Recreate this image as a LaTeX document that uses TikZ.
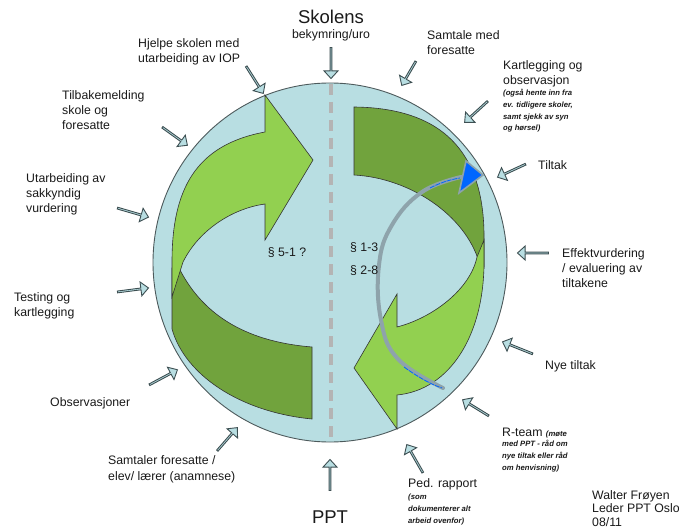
\documentclass[tikz,border=0pt]{standalone}
\usepackage{fontspec}
\setmainfont{Liberation Sans}
\usetikzlibrary{shapes.arrows,calc}
\definecolor{lblue}{HTML}{B8DEE2}
\definecolor{lgreen}{HTML}{92D050}
\definecolor{dgreen}{HTML}{71A33D}
\definecolor{cline}{HTML}{4D5A5C}
\definecolor{aline}{HTML}{3D4F52}
\definecolor{dashgray}{HTML}{B4B4B4}
\definecolor{txt}{HTML}{1A1A1A}
\definecolor{arcgray}{HTML}{8EA3AB}
\definecolor{tipblue}{HTML}{0066FF}
\tikzset{
  lbl/.style={font=\fontsize{12.3}{14.8}\selectfont, align=left, anchor=north west, inner sep=0pt, text=txt},
  sml/.style={font=\fontsize{7.7}{11.8}\selectfont\bfseries\itshape, align=left, anchor=north west, inner sep=0pt, text=txt},
  big/.style={font=\fontsize{18.5}{20}\selectfont, inner sep=0pt, text=txt},
  mid/.style={font=\fontsize{12.3}{14.8}\selectfont, inner sep=0pt, text=txt},
  blk/.style={single arrow, draw=aline, fill=lblue, line width=0.9pt, inner sep=0pt,
    minimum width=14pt, single arrow head extend=3pt, single arrow tip angle=85},
  band/.style={draw=black!80, line width=0.6pt, line join=miter},
}
\newcommand\blkarrow[3]{%
  \path let \p1=($(#3)-(#2)$), \n1={atan2(\y1,\x1)}, \n2={veclen(\x1,\y1)} in
    node[blk, rotate=\n1, minimum height=\n2] (#1) at ($(#2)!0.5!(#3)$) {};}
\begin{document}
\begin{tikzpicture}[x=1pt,y=-1pt]
\fill[white] (0,0) rectangle (679,529);
\useasboundingbox (0,0) rectangle (679,529);

% main circle
\draw[fill=lblue, draw=cline, line width=0.9pt] (330,262.5) ellipse[x radius=177, y radius=179.5];
% divider
\draw[dashgray, line width=3.6pt, dash pattern=on 11pt off 7pt] (331,84) -- (331,441);

% left dark green band
\draw[band, fill=dgreen] (180,270) .. controls (205,318) and (250,342) .. (312,347)
  -- (312,419) .. controls (240,412) and (185,375) .. (172,329) -- (172,268) -- cycle;
% left light green arrow
\draw[band, fill=lgreen] (172,297) -- (172,262) .. controls (172,190) and (195,145) .. (265,132)
  -- (265,95) -- (313,160) -- (265,240) -- (265,204)
  .. controls (235,208) and (200,228) .. (183,262) -- cycle;
% right dark green band
\draw[band, fill=dgreen] (354,107) -- (354,175) .. controls (410,178) and (465,215) .. (479,262)
  -- (484,268) -- (484,240) .. controls (485,160) and (450,108) .. (354,107) -- cycle;
% right light green arrow
\draw[band, fill=lgreen] (484,240) -- (484,262) .. controls (484,335) and (450,390) .. (397,395)
  -- (397,429) -- (354,368) -- (397,294) -- (397,327)
  .. controls (432,318) and (470,290) .. (477,257) -- cycle;

% curved process arrow
\draw[arcgray, line width=4pt, line cap=round] plot[smooth, tension=0.7] coordinates
  {(443,388) (398,359) (381,320) (379,265) (392,225) (422,192) (461,177)};
\draw[tipblue, line width=0.8pt, dash pattern=on 5pt off 1pt] (404,367) .. controls (418,377) and (430,384) .. (442,388);
\draw[tipblue, line width=0.8pt, dash pattern=on 5pt off 1pt] (430,188) .. controls (440,183) and (448,180) .. (460,178);
\draw[fill=tipblue, draw=arcgray, line width=1.6pt, line join=miter] (466,161) -- (483,175) -- (459,193) -- cycle;

% block arrows
\blkarrow{aSk}{331,47}{331,78}
\blkarrow{aIOP}{246,66}{263,93}
\blkarrow{aTil}{162,127}{187,145}
\blkarrow{aUt}{117,208}{148,217}
\blkarrow{aTest}{117,292}{148,288}
\blkarrow{aObs}{149,385}{177,370}
\blkarrow{aSamt}{217,451}{237,428}
\blkarrow{aPPT}{330,491}{330,460}
\blkarrow{aPed}{423,473}{407,445}
\blkarrow{aR}{489,416}{463,400}
\blkarrow{aNye}{533,354}{503,342}
\blkarrow{aEff}{549,253}{518,253}
\blkarrow{aTilt}{526,164}{498,177}
\blkarrow{aKart}{488,101}{465,122}
\blkarrow{aSamf}{416,61}{402,85}

% texts
\node[big] (tSk) at (331,17) {Skolens};
\node[mid] (tBek) at (331,35) {bekymring/uro};
\node[big] (tPPT) at (330,517) {PPT};
\node[lbl] (tIOP) at (138,38.5) {Hjelpe skolen med\\utarbeiding av IOP};
\node[lbl] (tSamf) at (427,30.5) {Samtale med\\foresatte};
\node[lbl] (tKart) at (503,60.5) {Kartlegging og\\observasjon};
\node[sml] (tKart2) at (503,89) {(også hente inn fra\\ev. tidligere skoler,\\samt sjekk av syn\\og hørsel)};
\node[lbl] (tTilt) at (538,160.5) {Tiltak};
\node[lbl] (tTil) at (62,90.5) {Tilbakemelding\\skole og\\foresatte};
\node[lbl] (tUt) at (26,173.5) {Utarbeiding av\\sakkyndig\\vurdering};
\node[lbl] (tTest) at (14,292.5) {Testing og\\kartlegging};
\node[lbl] (tEff) at (562,248.5) {Effektvurdering\\/ evaluering av\\tiltakene};
\node[lbl] (tNye) at (545,360.5) {Nye tiltak};
\node[lbl] (tR) at (502,427.5) {R-team {\fontsize{7.7}{11.8}\selectfont\bfseries\itshape (møte}};
\node[sml] (tR2) at (502,440) {med PPT - råd om\\nye tiltak eller råd\\om henvisning)};
\node[lbl] (tPed) at (408,478.5) {Ped. rapport};
\node[sml] (tPed2) at (408,494) {(som\\dokumenterer alt\\arbeid ovenfor)};
\node[lbl, font=\fontsize{12.3}{13.6}\selectfont] (tWal) at (592,490) {Walter Frøyen\\Leder PPT Oslo\\08/11};
\node[lbl] (tObs) at (50,397.5) {Observasjoner};
\node[lbl, font=\fontsize{12.3}{16}\selectfont] (tSamt) at (108,455.5) {Samtaler foresatte /\\elev/ lærer (anamnese)};
\node[mid] (t51) at (287,253) {§ 5-1 ?};
\node[mid, anchor=west] (t13) at (350,248) {§ 1-3};
\node[mid, anchor=west] (t28) at (350,271) {§ 2-8};
\end{tikzpicture}
\end{document}
